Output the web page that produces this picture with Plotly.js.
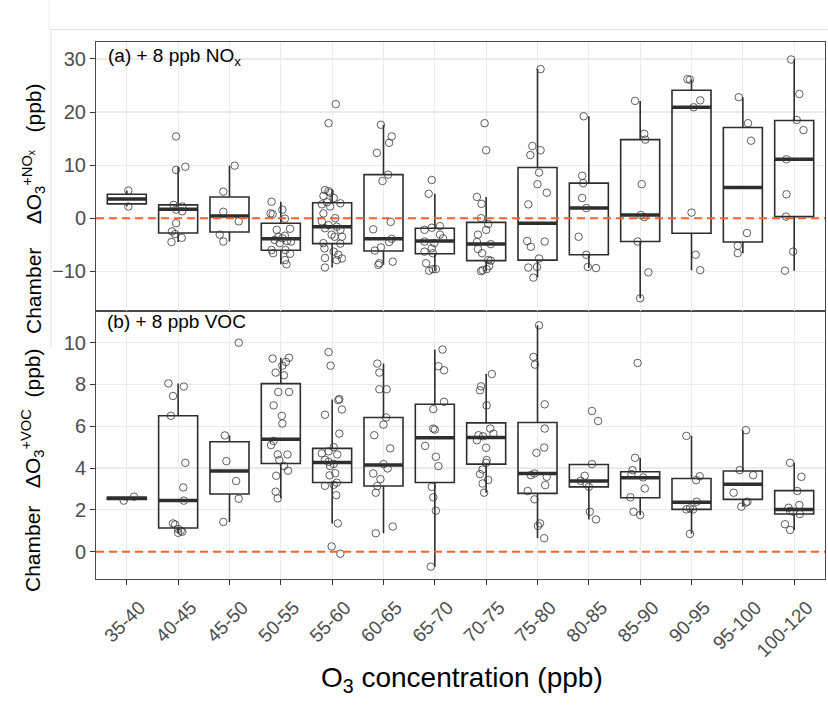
<!DOCTYPE html>
<html><head><meta charset="utf-8">
<script src="https://cdn.plot.ly/plotly-3.0.1.min.js"></script>
<style>html,body{margin:0;padding:0;background:#fff}</style>
</head><body><div id="chart" style="width:828px;height:709px"></div>
<script>
const categories = ['35-40','40-45','45-50','50-55','55-60','60-65','65-70','70-75','75-80','80-85','85-90','90-95','95-100','100-120'];

// Panel (a): + 8 ppb NOx  — box statistics
const noxQ1     = [2.7, -2.8, -2.6, -6.05, -4.8, -6.2, -6.7, -8.0, -7.9, -6.9, -4.4, -2.85, -4.5, 0.3];
const noxMedian = [3.6, 1.7, 0.4, -3.9, -1.6, -3.9, -4.3, -4.85, -0.95, 1.9, 0.6, 20.9, 5.8, 11.1];
const noxQ3     = [4.5, 2.5, 4.0, -0.95, 2.9, 8.2, -1.9, -0.8, 9.55, 6.6, 14.8, 24.1, 17.1, 18.4];
const noxLow    = [2.2, -4.5, -4.4, -8.7, -9.3, -8.8, -9.9, -10.0, -11.2, -9.4, -15.1, -9.8, -6.6, -9.9];
const noxHigh   = [5.2, 9.7, 9.9, 3.1, 5.3, 17.6, 4.6, 4.0, 28.1, 19.2, 22.1, 26.2, 22.8, 29.9];
const noxPoints = [
  [5.2, 2.2],
  [15.4, 9.1, 9.7, 2.5, 2.2, 1.6, 1.3, -0.95, -2.5, -3.0, -3.7, -4.5],
  [9.9, 5.0, 1.2, -0.6, -3.1, -4.4],
  [3.1, 0.9, 0.75, 1.6, -0.1, -2.0, -3.5, -3.3, -4.1, -3.8, -4.3, -4.4, -6.0, -6.6, -6.0, -6.7, -7.9, -8.7, -4.7, -2.2],
  [21.5, 17.9, 5.3, 5.1, 4.8, 4.2, 3.8, 3.0, 2.8, 2.6, 2.2, 0.9, 0.0, -0.6, -1.3, -1.6, -1.9, -2.2, -3.1, -3.5, -3.5, -4.7, -4.8, -5.7, -6.3, -6.9, -7.5, -7.6, -7.9, -9.3],
  [17.6, 15.4, 14.2, 12.3, 8.2, 7.0, -0.7, -2.1, -3.9, -4.5, -5.5, -6.1, -8.2, -8.5, -8.8],
  [7.2, 4.6, -1.5, -1.8, -2.2, -3.1, -3.8, -4.4, -4.7, -5.7, -6.3, -6.6, -8.5, -9.6, -9.6, -9.9],
  [17.9, 12.8, 4.0, 2.7, 0.0, -1.1, -2.2, -3.1, -4.5, -4.9, -5.8, -6.6, -7.9, -8.0, -9.0, -9.6, -9.8, -10.0],
  [28.1, 13.6, 12.8, 11.9, 8.6, 6.4, 4.8, 2.6, -4.3, -4.4, -5.4, -7.6, -9.2, -9.3, -11.2],
  [19.2, 8.0, 6.6, 3.8, 1.9, -3.5, -6.9, -9.2, -9.4],
  [22.1, 15.9, 14.8, 6.4, 0.6, 0.2, -4.4, -10.2, -15.1],
  [26.2, 26.1, 22.2, 20.9, 1.05, -6.9, -9.8],
  [22.8, 17.9, 14.6, -2.8, -5.2, -6.6],
  [29.9, 23.4, 18.5, 16.6, 11.1, 4.5, 0.3, -6.3, -9.9]
];
const noxJitter = [
  [0.03, 0.03],
  [-0.04, -0.04, 0.14, -0.09, 0.08, -0.04, 0.08, -0.04, -0.12, -0.06, 0.07, -0.13],
  [0.10, -0.12, -0.12, 0.18, -0.19, -0.12],
  [-0.18, -0.2, -0.16, 0.03, 0.08, 0.18, -0.05, 0.08, -0.12, 0.03, 0.12, 0.2, -0.18, -0.15, 0.09, 0.18, 0.08, 0.11, -0.02, -0.08],
  [0.07, -0.07, -0.14, -0.07, -0.04, -0.17, 0.03, -0.1, 0.16, -0.2, -0.04, -0.17, 0.06, -0.2, -0.07, 0.09, -0.14, 0.16, -0.01, 0.05, 0.19, -0.17, 0.16, -0.15, 0.03, 0.12, -0.14, 0.19, 0.09, -0.14],
  [-0.05, 0.16, 0.11, -0.13, 0.09, -0.02, 0.14, -0.2, 0.16, 0.11, -0.05, -0.17, 0.18, -0.08, -0.1],
  [-0.06, -0.12, 0.10, -0.06, -0.2, 0.10, 0.16, -0.2, -0.01, -0.06, -0.2, -0.04, -0.17, -0.04, 0.02, -0.11],
  [-0.03, 0, -0.18, -0.09, -0.1, 0.04, 0, -0.16, -0.18, 0.09, -0.16, -0.08, 0.04, 0.09, 0.06, 0.01, -0.07, -0.1],
  [0.06, -0.1, 0.06, -0.14, 0.03, 0, 0.18, -0.18, -0.2, 0.14, -0.13, 0.03, -0.01, -0.18, -0.08],
  [-0.1, -0.13, -0.11, -0.13, -0.05, -0.2, -0.05, -0.02, 0.14],
  [-0.1, 0.08, 0.1, 0.03, 0.01, 0.08, -0.05, 0.16, 0],
  [-0.08, -0.03, 0.17, 0.04, 0, 0.08, 0.17],
  [-0.08, 0.1, 0.16, 0.08, -0.1, -0.1],
  [-0.06, 0.1, 0.05, 0.18, -0.15, -0.15, -0.16, -0.02, -0.18]
];

// Panel (b): + 8 ppb VOC
const vocQ1     = [2.5, 1.13, 2.76, 4.22, 3.31, 3.14, 3.31, 4.19, 2.79, 3.1, 2.58, 2.02, 2.5, 1.8];
const vocMedian = [2.55, 2.45, 3.86, 5.38, 4.27, 4.14, 5.45, 5.46, 3.74, 3.38, 3.54, 2.36, 3.23, 2.02];
const vocQ3     = [2.6, 6.5, 5.26, 8.04, 4.94, 6.42, 7.05, 6.16, 6.18, 4.17, 3.82, 3.5, 3.86, 2.92];
const vocLow    = [2.44, 0.9, 1.42, 2.55, 1.35, 0.88, -0.72, 2.82, 0.64, 1.54, 1.75, 0.85, 2.15, 1.04];
const vocHigh   = [2.63, 8.05, 5.56, 9.28, 7.28, 9.0, 9.67, 8.5, 10.83, 4.19, 4.49, 5.54, 5.81, 4.25];
const vocPoints = [
  [2.44, 2.63],
  [8.05, 7.9, 7.45, 6.5, 4.25, 3.07, 2.44, 1.35, 1.3, 1.08, 1.0, 0.9, 0.95],
  [10.0, 5.56, 4.33, 3.38, 2.53, 1.42],
  [9.24, 9.28, 9.08, 8.9, 8.57, 8.44, 7.64, 7.64, 7.0, 6.5, 6.13, 5.3, 5.1, 4.65, 4.65, 4.38, 4.1, 3.87, 3.63, 2.87, 2.55],
  [9.55, 8.9, 7.3, 7.25, 6.8, 6.55, 5.65, 5.0, 4.8, 4.7, 4.65, 4.4, 4.3, 4.2, 4.1, 3.75, 3.65, 3.3, 3.2, 3.15, 2.7, 1.35, 0.25, -0.1],
  [9.0, 8.57, 7.77, 7.77, 6.42, 6.08, 5.57, 4.94, 4.19, 3.98, 3.74, 3.47, 3.14, 2.82, 1.2, 0.88],
  [9.67, 8.87, 8.68, 7.17, 6.82, 5.89, 5.84, 5.06, 4.54, 4.09, 3.1, 2.6, 1.96, -0.72],
  [8.5, 7.91, 7.72, 7.0, 5.89, 5.65, 5.57, 5.52, 5.33, 4.97, 4.38, 4.25, 3.93, 3.71, 3.43, 3.26, 2.82],
  [10.83, 9.32, 8.95, 7.05, 5.89, 4.98, 4.73, 3.74, 3.66, 3.58, 3.18, 2.9, 2.5, 1.35, 1.23, 0.64],
  [6.73, 6.25, 4.19, 3.63, 3.39, 3.26, 3.1, 1.91, 1.54],
  [9.03, 4.49, 3.9, 3.71, 3.55, 3.02, 2.6, 1.91, 1.75],
  [5.54, 3.61, 3.42, 2.39, 2.02, 2.02, 2.07, 0.85],
  [5.81, 3.9, 3.66, 2.82, 2.39, 2.35, 2.15],
  [4.25, 3.58, 2.9, 2.1, 2.23, 1.91, 1.8, 1.95, 1.31, 1.04]
];
const vocJitter = [
  [-0.06, 0.14],
  [-0.19, 0.11, -0.1, -0.14, 0.14, 0.1, 0.11, -0.1, -0.06, 0, 0.05, 0, 0.08],
  [0.18, -0.09, -0.06, 0.13, 0.18, -0.12],
  [-0.16, 0.16, 0.1, 0.03, -0.1, 0.06, -0.05, 0.16, -0.14, 0.02, 0.03, -0.14, -0.19, -0.06, 0.13, -0.03, 0.06, 0.14, -0.09, -0.1, -0.06],
  [-0.07, -0.03, 0.14, 0.12, 0.19, -0.14, 0.14, 0.03, -0.07, -0.2, 0.1, -0.14, -0.07, 0.03, -0.04, 0.06, -0.05, 0.09, 0.03, -0.14, 0.08, 0.11, -0.01, 0.16],
  [-0.12, -0.08, -0.08, 0.06, 0.05, 0, -0.18, 0.13, 0, 0.08, -0.2, -0.06, -0.12, -0.15, 0.18, -0.15],
  [0.15, 0.07, 0.18, 0.18, -0.03, -0.03, 0, -0.19, 0.02, 0.07, -0.06, -0.03, 0.02, -0.08],
  [0.11, -0.1, -0.12, 0.01, 0.08, 0.14, -0.15, -0.06, -0.18, 0, 0.01, 0, -0.07, -0.12, 0.04, -0.07, -0.04],
  [0.03, -0.08, -0.05, 0.14, 0.14, 0.13, -0.02, -0.06, -0.13, 0.18, 0.15, -0.19, -0.06, 0.05, 0.01, 0.13],
  [0.06, 0.18, 0.06, -0.08, -0.16, -0.05, 0, 0.02, 0.14],
  [-0.05, -0.1, -0.15, -0.17, 0.06, 0.09, -0.19, -0.13, 0],
  [-0.1, 0.16, 0.09, 0.1, 0.03, -0.1, -0.03, -0.03],
  [0.06, -0.06, 0.2, -0.18, 0.09, 0.06, -0.03],
  [-0.08, 0.14, 0.06, -0.11, 0.1, -0.02, 0.11, -0.08, -0.18, -0.08]
];

const FONT = 'Liberation Sans, Arial, Helvetica, sans-serif';
const idx = categories.map((c, i) => i);

function panelTraces(q1, med, q3, lo, hi, pts, jit, xa, ya) {
  const box = {
    type: 'box', x: idx, q1: q1, median: med, q3: q3, lowerfence: lo, upperfence: hi,
    width: 0.76, whiskerwidth: 0, boxpoints: false,
    line: {color: '#2e2e2e', width: 1.6}, fillcolor: 'rgba(0,0,0,0)',
    xaxis: xa, yaxis: ya, hoverinfo: 'skip', showlegend: false
  };
  const medLine = {
    type: 'box', x: idx, q1: med, median: med, q3: med, lowerfence: med, upperfence: med,
    width: 0.76, whiskerwidth: 0, boxpoints: false,
    line: {color: '#2e2e2e', width: 3.5}, fillcolor: 'rgba(0,0,0,0)',
    xaxis: xa, yaxis: ya, hoverinfo: 'skip', showlegend: false
  };
  const px = [], py = [];
  pts.forEach((arr, i) => arr.forEach((v, k) => { px.push(i + jit[i][k]); py.push(v); }));
  const scatter = {
    type: 'scatter', mode: 'markers', x: px, y: py, xaxis: xa, yaxis: ya,
    marker: {symbol: 'circle-open', size: 7.5, color: 'rgba(55,55,55,0.8)', line: {width: 1}},
    hoverinfo: 'skip', showlegend: false
  };
  return [box, medLine, scatter];
}

const data = [].concat(
  panelTraces(noxQ1, noxMedian, noxQ3, noxLow, noxHigh, noxPoints, noxJitter, 'x2', 'y'),
  panelTraces(vocQ1, vocMedian, vocQ3, vocLow, vocHigh, vocPoints, vocJitter, 'x', 'y2')
);

const axisCommon = {
  showgrid: true, gridcolor: '#ebebeb', gridwidth: 1.2,
  showline: true, mirror: true, linecolor: '#4a4a4a', linewidth: 1,
  zeroline: false, ticks: 'outside', ticklen: 5, tickcolor: '#333333', tickwidth: 1,
  tickfont: {family: FONT, size: 20, color: '#4d4d4d'}
};

const layout = {
  width: 828, height: 709,
  margin: {l: 96, r: 3, t: 42, b: 130},
  paper_bgcolor: '#ffffff', plot_bgcolor: '#ffffff',
  boxmode: 'overlay', showlegend: false,
  xaxis: Object.assign({}, axisCommon, {
    domain: [0, 1], anchor: 'y2', range: [-0.6, 13.6],
    tickmode: 'array', tickvals: idx, ticktext: categories, tickangle: -45,
    ticklabelshift: 13, ticklabelstandoff: 4,
    tickfont: {family: FONT, size: 19, color: '#4d4d4d'}
  }),
  xaxis2: Object.assign({}, axisCommon, {
    domain: [0, 1], anchor: 'y', range: [-0.6, 13.6], matches: 'x',
    tickmode: 'array', tickvals: idx, showticklabels: false, ticks: ''
  }),
  yaxis: Object.assign({}, axisCommon, {
    domain: [0.5, 1], anchor: 'x2', range: [-17.4, 33.2],
    tickmode: 'array', tickvals: [-10, 0, 10, 20, 30]
  }),
  yaxis2: Object.assign({}, axisCommon, {
    domain: [0, 0.5], anchor: 'x', range: [-1.31, 11.54],
    tickmode: 'array', tickvals: [0, 2, 4, 6, 8, 10]
  }),
  shapes: [
    {type: 'line', xref: 'paper', x0: 0, x1: 1, yref: 'y', y0: 0, y1: 0,
     line: {color: '#F5622B', width: 2, dash: '8px,5px'}},
    {type: 'line', xref: 'paper', x0: 0, x1: 1, yref: 'y2', y0: 0, y1: 0,
     line: {color: '#F5622B', width: 2, dash: '8px,5px'}},
    {type: 'line', xref: 'paper', yref: 'paper', x0: -0.0631, x1: 1.004, y0: 1.0233, y1: 1.0233,
     line: {color: '#e2e2e2', width: 1}},
    {type: 'line', xref: 'paper', yref: 'paper', x0: -0.0617, x1: -0.0617, y0: 1.0233, y1: 0.43,
     line: {color: '#e2e2e2', width: 1}},
    {type: 'line', xref: 'paper', yref: 'paper', x0: -0.0645, x1: -0.0645, y0: 1.0782, y1: 1.0233,
     line: {color: '#eeeeee', width: 1}}
  ],
  annotations: [
    {xref: 'paper', yref: 'paper', x: 0.0137, y: 0.972, xanchor: 'left', yanchor: 'middle', showarrow: false,
     text: '(a)\u00a0+ 8 ppb NO<sub>x</sub>', font: {family: FONT, size: 19, color: '#000'}},
    {xref: 'paper', yref: 'paper', x: 0.0123, y: 0.4786, xanchor: 'left', yanchor: 'middle', showarrow: false,
     text: '(b)\u00a0+ 8 ppb VOC', font: {family: FONT, size: 19, color: '#000'}},
    {xref: 'paper', yref: 'paper', x: -0.0864, y: 0.689, xanchor: 'center', yanchor: 'middle', showarrow: false,
     textangle: -90,
     text: 'Chamber\u00a0\u00a0\u00a0\u00a0ΔO<sub>3</sub><sup>+NO<sub>x</sub></sup>\u00a0\u00a0\u00a0(ppb)', font: {family: FONT, size: 21, color: '#000'}},
    {xref: 'paper', yref: 'paper', x: -0.0864, y: 0.203, xanchor: 'center', yanchor: 'middle', showarrow: false,
     textangle: -90,
     text: 'Chamber\u00a0\u00a0\u00a0ΔO<sub>3</sub><sup>+VOC</sup>\u00a0\u00a0(ppb)', font: {family: FONT, size: 21, color: '#000'}},
    {xref: 'paper', yref: 'paper', x: 0.502, y: -0.188, xanchor: 'center', yanchor: 'middle', showarrow: false,
     text: 'O<sub>3</sub> concentration (ppb)', font: {family: FONT, size: 28, color: '#000'}}
  ]
};

Plotly.newPlot('chart', data, layout, {displayModeBar: false, staticPlot: true});
</script>
</body></html>
